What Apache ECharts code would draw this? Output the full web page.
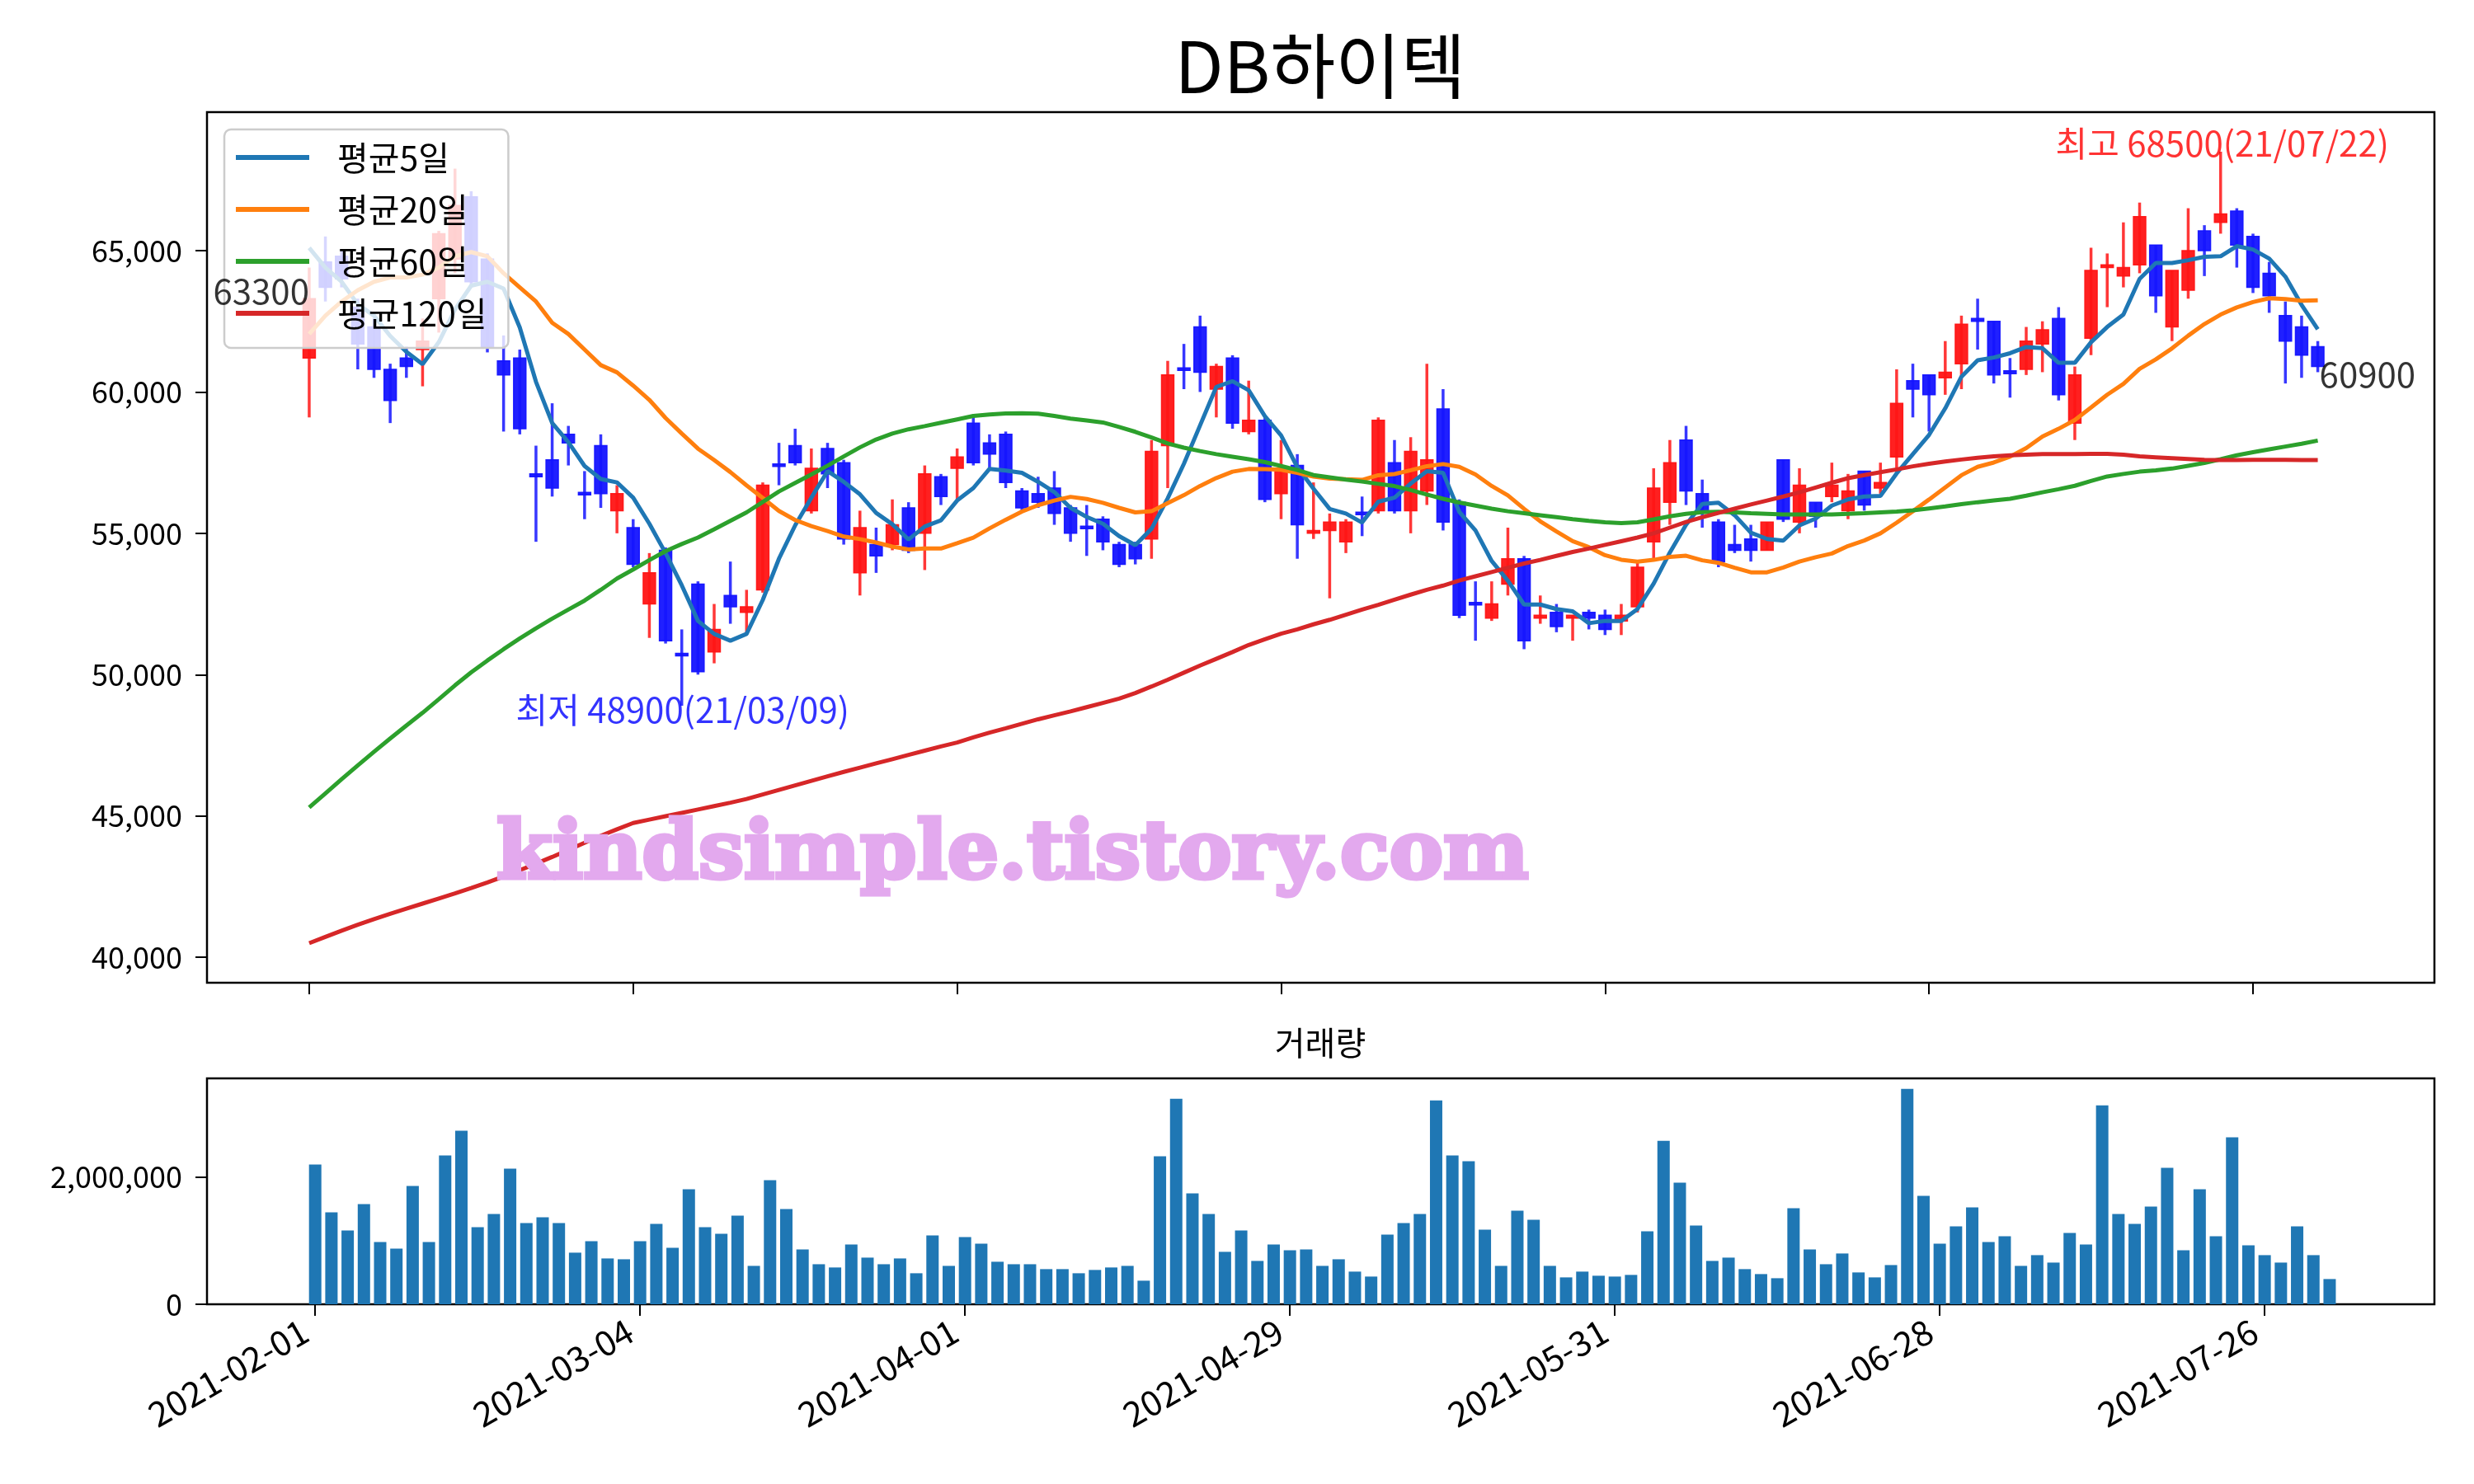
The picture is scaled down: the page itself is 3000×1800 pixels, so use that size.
<!DOCTYPE html>
<html>
<head>
<meta charset="utf-8">
<script src="https://cdn.jsdelivr.net/npm/echarts@6/dist/echarts.min.js"></script>
<style>
html, body { margin: 0; padding: 0; background: #fff; }
#chart { width: 3000px; height: 1800px; }
</style>
</head>
<body>
<div id="chart"></div>
<script>
// 거래일 인덱스 기준 눈금 (20거래일 간격)
const tickIdx = [0, 20, 40, 60, 80, 100, 120];
const tickLabels = ['2021-02-01', '2021-03-04', '2021-04-01', '2021-04-29', '2021-05-31', '2021-06-28', '2021-07-26'];
const priceTicks = [40000, 45000, 50000, 55000, 60000, 65000];
const volTicks = [0, 2000000];

const opens = [
  61200, 64600, 64800, 63000, 62300, 60800, 61200, 61500, 63300, 64700,
  66900, 64700, 61100, 61200, 57100, 57600, 58500, 56450, 58100, 55800,
  55200, 52500, 54400, 50750, 53200, 50800, 52800, 52200, 53000, 57450,
  58100, 55800, 58000, 57500, 53600, 54600, 54600, 55900, 55000, 57000,
  57300, 58900, 58200, 58500, 56500, 56400, 56600, 55900, 55250, 55500,
  54600, 54600, 54800, 58100, 60850, 62300, 60100, 61200, 58600, 59000,
  56400, 57400, 55000, 55100, 54700, 55750, 55800, 57500, 55800, 56500,
  59400, 56100, 52550, 52000, 53200, 54100, 52000, 52200, 52000, 52200,
  52100, 51900, 52400, 54700, 56100, 58300, 56400, 55400, 54600, 54800,
  54400, 57600, 55400, 56100, 56300, 55800, 57200, 56600, 57700, 60400,
  60600, 60500, 61000, 62600, 62500, 60750, 60800, 61700, 62600, 58900,
  61900, 64400, 64100, 64500, 65200, 62300, 63600, 65700, 66000, 66400,
  65500, 64200, 62700, 62300, 61600
];
const closes = [
  63300, 63700, 64000, 61700, 60800, 59700, 60900, 61800, 65600, 66600,
  63900, 61600, 60600, 58700, 57000, 56600, 58200, 56400, 56400, 56400,
  53900, 53600, 51200, 50700, 50100, 51600, 52400, 52400, 56700, 57400,
  57500, 57300, 57100, 54800, 55200, 54200, 55300, 54400, 57100, 56300,
  57700, 57500, 57800, 56800, 55900, 56100, 55700, 55000, 55200, 54700,
  53900, 54100, 57900, 60600, 60800, 60700, 60900, 58900, 59000, 56200,
  57300, 55300, 55100, 55400, 55400, 55700, 59000, 55800, 57900, 57600,
  55400, 52100, 52500, 52500, 54100, 51200, 52100, 51700, 52100, 52000,
  51600, 52100, 53800, 56600, 57500, 56500, 55800, 54000, 54400, 54400,
  55400, 55500, 56700, 55600, 56700, 56500, 56000, 56800, 59600, 60100,
  59900, 60700, 62400, 62500, 60600, 60650, 61800, 62200, 59900, 60600,
  64300, 64500, 64400, 66200, 63400, 64300, 65000, 65000, 66300, 65200,
  63700, 63400, 61800, 61300, 60900
];
const highs = [
  64400, 65500, 65000, 63300, 62600, 61000, 61600, 62600, 65700, 67900,
  67100, 64900, 62000, 61500, 58100, 59600, 58800, 57200, 58500, 56700,
  55500, 54300, 54500, 51600, 53300, 52500, 54000, 53000, 56800, 58200,
  58700, 58000, 58200, 57600, 55800, 55200, 56200, 56100, 57400, 57100,
  58000, 59200, 58500, 58600, 56600, 57000, 57200, 56000, 56000, 55600,
  54700, 54700, 58300, 61100, 61700, 62700, 61000, 61300, 60400, 59100,
  58300, 57800, 56800, 55700, 55500, 56300, 59100, 58300, 58400, 61000,
  60100, 56200, 53300, 53300, 55200, 54200, 52800, 52500, 52100, 52300,
  52300, 52500, 54000, 57300, 58300, 58800, 56900, 55500, 55300, 55300,
  55400, 57600, 57300, 56100, 57500, 57100, 57200, 57500, 60800, 61000,
  60600, 61800, 62700, 63300, 62500, 61200, 62300, 62500, 63000, 60900,
  65100, 64900, 66000, 66700, 65200, 64300, 66500, 65900, 68500, 66500,
  65600, 64600, 63200, 62700, 61800
];
const lows = [
  59100, 63200, 63700, 60800, 60500, 58900, 60500, 60200, 62100, 64200,
  63700, 61400, 58600, 58500, 54700, 56300, 57400, 55500, 55900, 55000,
  53800, 51300, 51100, 48900, 50000, 50400, 51800, 51400, 52900, 56700,
  57400, 55700, 56600, 54600, 52800, 53600, 54400, 54300, 53700, 56000,
  56200, 57400, 57300, 56600, 55800, 55900, 55300, 54700, 54200, 54400,
  53800, 53900, 54100, 56600, 60100, 60000, 59100, 58700, 58500, 56100,
  55500, 54100, 54800, 52700, 54300, 54900, 55700, 55700, 55000, 56000,
  55100, 52000, 51200, 51900, 52800, 50900, 51800, 51500, 51200, 51600,
  51400, 51400, 52200, 54100, 55300, 56000, 55200, 53800, 54300, 54000,
  54400, 55400, 55000, 55200, 56100, 55500, 55800, 56400, 57300, 59100,
  58600, 59900, 60100, 61500, 60300, 59800, 60600, 60700, 59700, 58300,
  61300, 63000, 63700, 64200, 62800, 61800, 63300, 64100, 65600, 64400,
  63500, 62800, 60300, 60500, 60700
];
const volumes = [
  2198000, 1446000, 1161000, 1576000, 980000, 877000, 1861000, 980000, 2340000, 2729000,
  1213000, 1421000, 2133000, 1278000, 1369000, 1278000, 812000, 993000, 721000, 708000,
  993000, 1265000, 889000, 1809000, 1213000, 1110000, 1395000, 604000, 1952000, 1498000,
  864000, 630000, 579000, 941000, 734000, 630000, 721000, 488000, 1084000, 604000,
  1058000, 954000, 669000, 630000, 630000, 553000, 553000, 488000, 540000, 579000,
  604000, 371000, 2327000, 3234000, 1744000, 1421000, 825000, 1161000, 682000, 941000,
  851000, 864000, 604000, 708000, 514000, 436000, 1097000, 1278000, 1421000, 3208000,
  2340000, 2250000, 1174000, 604000, 1472000, 1330000, 604000, 423000, 514000, 449000,
  436000, 462000, 1149000, 2573000, 1913000, 1239000, 682000, 734000, 553000, 475000,
  410000, 1511000, 864000, 630000, 799000, 501000, 423000, 617000, 3389000, 1706000,
  954000, 1226000, 1524000, 980000, 1071000, 604000, 773000, 656000, 1123000, 941000,
  3130000, 1421000, 1265000, 1537000, 2146000, 851000, 1809000, 1071000, 2625000, 928000,
  773000, 656000, 1226000, 773000, 397000
];
const ma5 = [
  65100, 64400, 63900, 63100, 62700, 61980, 61420, 60980, 61760, 62920,
  63760, 63900, 63660, 62280, 60360, 58900, 58220, 57380, 56920, 56800,
  56260, 55340, 54300, 53160, 51900, 51440, 51200, 51440, 52640, 54100,
  55280, 56260, 57200, 56820, 56380, 55720, 55320, 54780, 55240, 55460,
  56160, 56600, 57280, 57220, 57140, 56820, 56460, 55900, 55580, 55340,
  54900, 54580, 55160, 56240, 57460, 58820, 60180, 60380, 60060, 59140,
  58460, 57340, 56580, 55860, 55700, 55380, 56120, 56260, 56760, 57200,
  57140, 55760, 55100, 54020, 53320, 52480, 52480, 52320, 52240, 51820,
  51900, 51900, 52320, 53220, 54320, 55300, 56040, 56080, 55640, 55020,
  54800, 54740, 55280, 55520, 55980, 56200, 56300, 56320, 57120, 57800,
  58480, 59420, 60540, 61120, 61220, 61370, 61590, 61550, 61030, 61030,
  61760, 62300, 62740, 64000, 64560, 64560, 64660, 64780, 64800, 65160,
  65040, 64720, 64080, 63080, 62220
];
const ma20 = [
  62050, 62700, 63200, 63600, 63900, 64050, 64050, 64150, 64400, 64800,
  64950, 64800, 64200, 63700, 63200, 62450, 62050, 61500, 60950, 60695,
  60225, 59720, 59080, 58530, 57995, 57590, 57165, 56695, 56250, 55790,
  55470, 55255, 55080, 54885, 54795, 54675, 54530, 54430, 54465, 54460,
  54650, 54845, 55175, 55480, 55770, 55995, 56160, 56290, 56215, 56080,
  55900, 55740, 55780, 56070, 56350, 56675, 56955, 57180, 57275, 57270,
  57250, 57140, 57005, 56935, 56910, 56890, 57055, 57095, 57230, 57375,
  57450, 57350, 57080, 56675, 56340, 55865, 55425, 55065, 54720, 54510,
  54225, 54065, 54000, 54060, 54165, 54205, 54045, 53955, 53780, 53620,
  53620, 53790, 54000, 54155, 54285, 54550, 54745, 55000, 55375, 55780,
  56195, 56625, 57055, 57350, 57505, 57712, 58012, 58422, 58697, 59007,
  59452, 59902, 60287, 60817, 61152, 61542, 61992, 62402, 62737, 62992,
  63182, 63317, 63287, 63227, 63242
];
const ma60 = [
  45300, 45800, 46300, 46790, 47270, 47740, 48200, 48650, 49130, 49620,
  50080, 50500, 50900, 51280, 51640, 51980, 52300, 52620, 53000, 53400,
  53720, 54050, 54370, 54620, 54850, 55140, 55440, 55740, 56110, 56480,
  56780, 57080, 57390, 57720, 58040, 58320, 58530, 58680, 58790, 58910,
  59030, 59150, 59200, 59240, 59250, 59230, 59150, 59060, 58990, 58920,
  58760, 58590, 58390, 58180, 58030, 57910, 57800, 57710, 57620, 57520,
  57380, 57240, 57060, 56980, 56900, 56830, 56750, 56670, 56530, 56370,
  56220, 56090, 55980, 55870, 55780, 55710, 55640, 55570, 55500, 55440,
  55390, 55360, 55390, 55490, 55600, 55690, 55750, 55760, 55740, 55710,
  55690, 55670, 55665, 55665, 55670, 55690, 55710, 55740, 55770, 55810,
  55880, 55950, 56030, 56100, 56160, 56220, 56330, 56450, 56560, 56680,
  56850, 57010, 57100, 57180, 57230, 57290, 57390, 57490, 57620, 57760,
  57870, 57970, 58070, 58170, 58280
];
const ma120 = [
  40500, 40720, 40940, 41150, 41350, 41540, 41720, 41900, 42080, 42260,
  42450, 42650, 42860, 43080, 43310, 43550, 43800, 44050, 44300, 44530,
  44750, 44870, 44990, 45110, 45230, 45350, 45470, 45600, 45760, 45920,
  46080, 46240, 46400, 46560, 46710, 46860, 47010, 47160, 47310, 47460,
  47600, 47780, 47950, 48100, 48260, 48420, 48560, 48700, 48850, 49000,
  49150, 49350, 49580, 49820, 50070, 50320, 50560, 50800, 51050, 51250,
  51450, 51600, 51780, 51940, 52120, 52300, 52470, 52650, 52830, 53000,
  53150, 53330, 53480, 53630, 53780, 53930, 54060, 54200, 54340, 54460,
  54590, 54720, 54850, 55000, 55200, 55400, 55570, 55720, 55870, 56020,
  56160, 56300, 56450, 56620, 56790, 56950, 57060, 57160, 57260, 57370,
  57460, 57540, 57610, 57670, 57720, 57760, 57780, 57800, 57800, 57800,
  57810, 57810, 57780, 57720, 57690, 57660, 57630, 57600, 57590, 57590,
  57600, 57600, 57600, 57590, 57590
];

const FONT = '"Noto Sans CJK KR", "Noto Sans", sans-serif';
const UP = '#ff1414';
const DOWN = '#1414ff';

const idx = closes.map((_, i) => i);
const candleData = idx.map(i => [i, opens[i], closes[i], lows[i], highs[i]]);
const pairs = arr => idx.map(i => [i, arr[i]]);

const hiIdx = highs.indexOf(Math.max(...highs));
const loIdx = lows.indexOf(Math.min(...lows));
const last = closes.length - 1;

function renderCandle(params, api) {
  const x = api.value(0);
  const o = api.value(1), c = api.value(2), l = api.value(3), h = api.value(4);
  const pO = api.coord([x, o]);
  const pC = api.coord([x, c]);
  const pL = api.coord([x, l]);
  const pH = api.coord([x, h]);
  const w = api.size([0.76, 0])[0];
  const col = c > o ? UP : DOWN;
  const top = Math.min(pO[1], pC[1]);
  const hgt = Math.max(Math.abs(pO[1] - pC[1]), 3);
  return {
    type: 'group',
    children: [
      { type: 'line', shape: { x1: pH[0], y1: pH[1], x2: pL[0], y2: pL[1] },
        style: { stroke: col, lineWidth: 3.5, opacity: 0.85 } },
      { type: 'rect', shape: { x: pO[0] - w / 2, y: top, width: w, height: hgt },
        style: { fill: col, stroke: col, lineWidth: 1.5, opacity: 0.95 } }
    ]
  };
}

function maSeries(name, data, color) {
  return {
    name: name, type: 'line', xAxisIndex: 0, yAxisIndex: 0,
    data: pairs(data), symbol: 'none', z: 3,
    lineStyle: { color: color, width: 5 }, itemStyle: { color: color }
  };
}

const tickStyle = { show: true, length: 14, lineStyle: { color: '#000', width: 2 } };

const chart = echarts.init(document.getElementById('chart'));
chart.setOption({
  animation: false,
  backgroundColor: '#fff',
  textStyle: { fontFamily: FONT },
  grid: [
    { left: 251, right: 48, top: 136, height: 1056, show: true, borderColor: '#000', borderWidth: 2.5 },
    { left: 251, right: 48, top: 1308, height: 274, show: true, borderColor: '#000', borderWidth: 2.5 }
  ],
  legend: {
    data: ['평균5일', '평균20일', '평균60일', '평균120일'],
    orient: 'vertical', left: 272, top: 157,
    padding: [12, 26, 20, 14],
    itemWidth: 89, itemHeight: 6, itemGap: 19, icon: 'rect',
    backgroundColor: 'rgba(255,255,255,0.8)',
    borderColor: '#cccccc', borderWidth: 2.5, borderRadius: 8,
    textStyle: { fontSize: 41, color: '#000', fontFamily: FONT, lineHeight: 44, padding: [0, 0, 0, 29] }
  },
  xAxis: [
    {
      type: 'value', gridIndex: 0, min: -6.31, max: 131.2,
      axisLine: { show: false, onZero: false }, splitLine: { show: false },
      axisTick: Object.assign({ customValues: tickIdx }, tickStyle),
      axisLabel: { show: false }
    },
    {
      type: 'value', gridIndex: 1, min: -6.66, max: 130.45,
      axisLine: { show: false, onZero: false }, splitLine: { show: false },
      axisTick: Object.assign({ customValues: tickIdx }, tickStyle),
      axisLabel: {
        customValues: tickIdx, rotate: 30, margin: 22, fontSize: 42, color: '#000', fontFamily: FONT,
        padding: [0, 14, 0, 0],
        formatter: v => tickLabels[tickIdx.indexOf(v)]
      }
    }
  ],
  yAxis: [
    {
      type: 'value', gridIndex: 0, min: 39100, max: 69900,
      axisLine: { show: false, onZero: false }, splitLine: { show: false },
      axisTick: Object.assign({ customValues: priceTicks }, tickStyle),
      axisLabel: {
        customValues: priceTicks, margin: 30, fontSize: 36, color: '#000', fontFamily: FONT,
        formatter: v => v.toLocaleString('en-US')
      }
    },
    {
      type: 'value', gridIndex: 1, min: 0, max: 3554000,
      axisLine: { show: false, onZero: false }, splitLine: { show: false },
      axisTick: Object.assign({ customValues: volTicks }, tickStyle),
      axisLabel: {
        customValues: volTicks, margin: 30, fontSize: 36, color: '#000', fontFamily: FONT,
        formatter: v => v.toLocaleString('en-US')
      }
    }
  ],
  series: [
    {
      name: 'candle', type: 'custom', xAxisIndex: 0, yAxisIndex: 0,
      renderItem: renderCandle, data: candleData, encode: { x: 0, y: [1, 2, 3, 4] }, z: 2
    },
    maSeries('평균5일', ma5, '#1f77b4'),
    maSeries('평균20일', ma20, '#ff7f0e'),
    maSeries('평균60일', ma60, '#2ca02c'),
    maSeries('평균120일', ma120, '#d62728'),
    {
      name: '거래량', type: 'bar', xAxisIndex: 1, yAxisIndex: 1,
      data: pairs(volumes), barWidth: 15, itemStyle: { color: '#1f77b4' }
    },
    {
      name: 'notes', type: 'scatter', xAxisIndex: 0, yAxisIndex: 0,
      symbolSize: 0, silent: true, z: 4,
      label: { show: true, position: 'inside', fontSize: 42, fontFamily: FONT },
      data: [
        { value: [0, closes[0]], label: { formatter: String(closes[0]), align: 'right', verticalAlign: 'middle', offset: [0, -9], color: '#000' } },
        { value: [last, closes[last]], label: { formatter: String(closes[last]), align: 'left', verticalAlign: 'middle', offset: [2, 9], color: '#000' } },
        { value: [hiIdx, highs[hiIdx]], label: { formatter: '최고 ' + highs[hiIdx] + '(21/07/22)', align: 'center', verticalAlign: 'middle', offset: [2, -10], color: '#ff0000' } },
        { value: [loIdx, lows[loIdx]], label: { formatter: '최저 ' + lows[loIdx] + '(21/03/09)', align: 'center', verticalAlign: 'middle', offset: [1, 5], color: '#0000ff' } }
      ]
    }
  ],
  graphic: [
    { type: 'text', x: 1601, y: 80, z: 10,
      style: { text: 'DB하이텍', fontSize: 86, fontFamily: FONT, fill: '#000', align: 'center', verticalAlign: 'middle' } },
    { type: 'text', x: 1601, y: 1265, z: 10,
      style: { text: '거래량', fontSize: 40, fontFamily: FONT, fill: '#000', align: 'center', verticalAlign: 'middle' } },
    { type: 'text', x: 602, y: 1040, z: 10,
      style: { text: 'kindsimple.tistory.com', fontSize: 98, fontWeight: 'bold', fontFamily: '"DejaVu Serif", serif',
        fill: '#e3a9ee', stroke: '#e3a9ee', lineWidth: 5, align: 'left', verticalAlign: 'middle' } }
  ]
});
</script>
</body>
</html>
